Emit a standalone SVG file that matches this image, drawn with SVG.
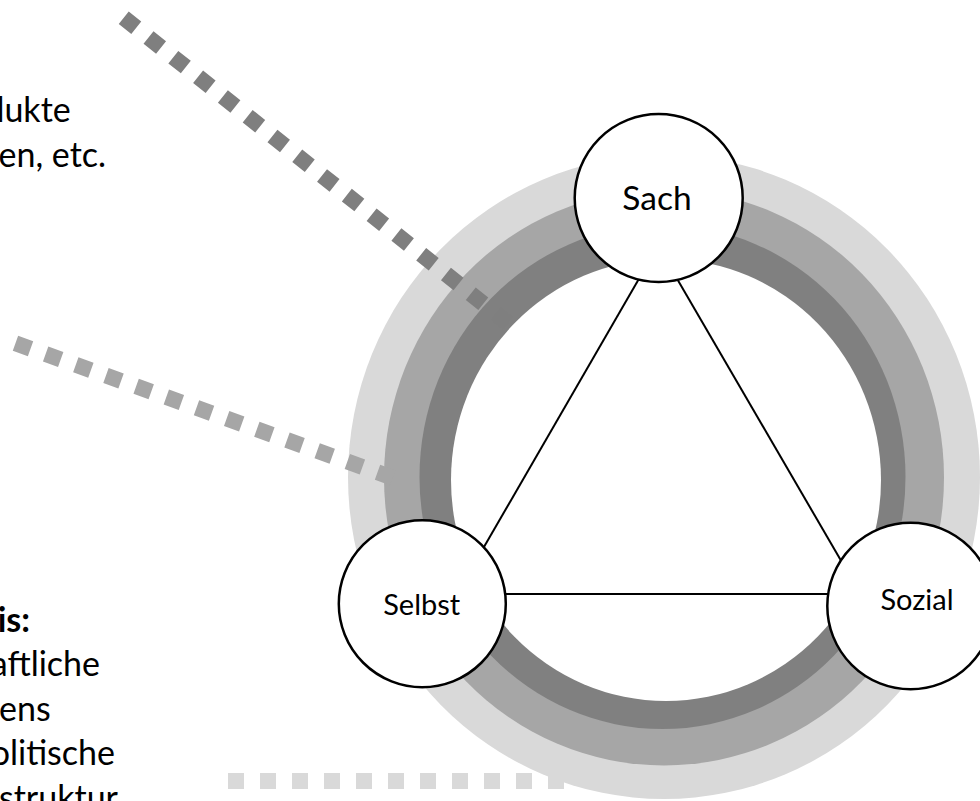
<svg xmlns="http://www.w3.org/2000/svg" width="980" height="801" viewBox="0 0 980 801">
<style>
  .t{font-family:Lato,"Liberation Sans",sans-serif;fill:#000}
  .side{font-size:34px;text-anchor:end}
  .node circle{fill:#fff;stroke:#000;stroke-width:2.5}
  .node text{font-family:Lato,"Liberation Sans",sans-serif;text-anchor:middle;fill:#000}
  .edge{stroke:#000;stroke-width:2;fill:none}
  .dots{fill:none;stroke-width:16;stroke-linecap:butt}
</style>
<rect width="980" height="801" fill="#fff"/>
<g id="rings">
  <ellipse cx="664" cy="477" rx="316" ry="322" fill="#d9d9d9"/>
  <ellipse cx="664" cy="477.5" rx="280" ry="288" fill="#a6a6a6"/>
  <ellipse cx="662.5" cy="477" rx="243" ry="252" fill="#808080"/>
  <ellipse cx="666" cy="480" rx="215" ry="221" fill="#fff"/>
</g>
<g id="labels">
  <text class="t side" x="70.7" y="122">lukte</text>
  <text class="t side" x="106" y="166.5">en, etc.</text>
  <text class="t side" x="30" y="631.5" font-weight="bold">is:</text>
  <text class="t side" x="100" y="676">aftliche</text>
  <text class="t side" x="50.7" y="720.5">ens</text>
  <text class="t side" x="115" y="765">olitische</text>
  <text class="t side" x="118" y="809.5">struktur</text>
</g>
<g id="connectors">
  <line class="dots" x1="123.74" y1="17.72" x2="507.96" y2="323.28" stroke="#7f7f7f" stroke-dasharray="16 15.67"/>
  <line class="dots" x1="15.46" y1="343.31" x2="392.54" y2="477.69" stroke="#a6a6a6" stroke-dasharray="16 16.03"/>
  <line class="dots" x1="228" y1="781" x2="564" y2="781" stroke="#d9d9d9" stroke-dasharray="16 16"/>
  <line class="edge" x1="640" y1="277" x2="482.5" y2="549.5"/>
  <line class="edge" x1="676" y1="277" x2="842.4" y2="563"/>
  <line class="edge" x1="503" y1="594" x2="830" y2="594"/>
</g>
<g id="node-sach" class="node">
  <circle cx="658.7" cy="198" r="84"/>
  <text x="657" y="210" font-size="33.5">Sach</text>
</g>
<g id="node-selbst" class="node">
  <circle cx="422.3" cy="603.7" r="83.5"/>
  <text x="421.7" y="615" font-size="29">Selbst</text>
</g>
<g id="node-sozial" class="node">
  <circle cx="910.6" cy="606" r="83.3"/>
  <text x="917" y="610" font-size="29">Sozial</text>
</g>
</svg>
